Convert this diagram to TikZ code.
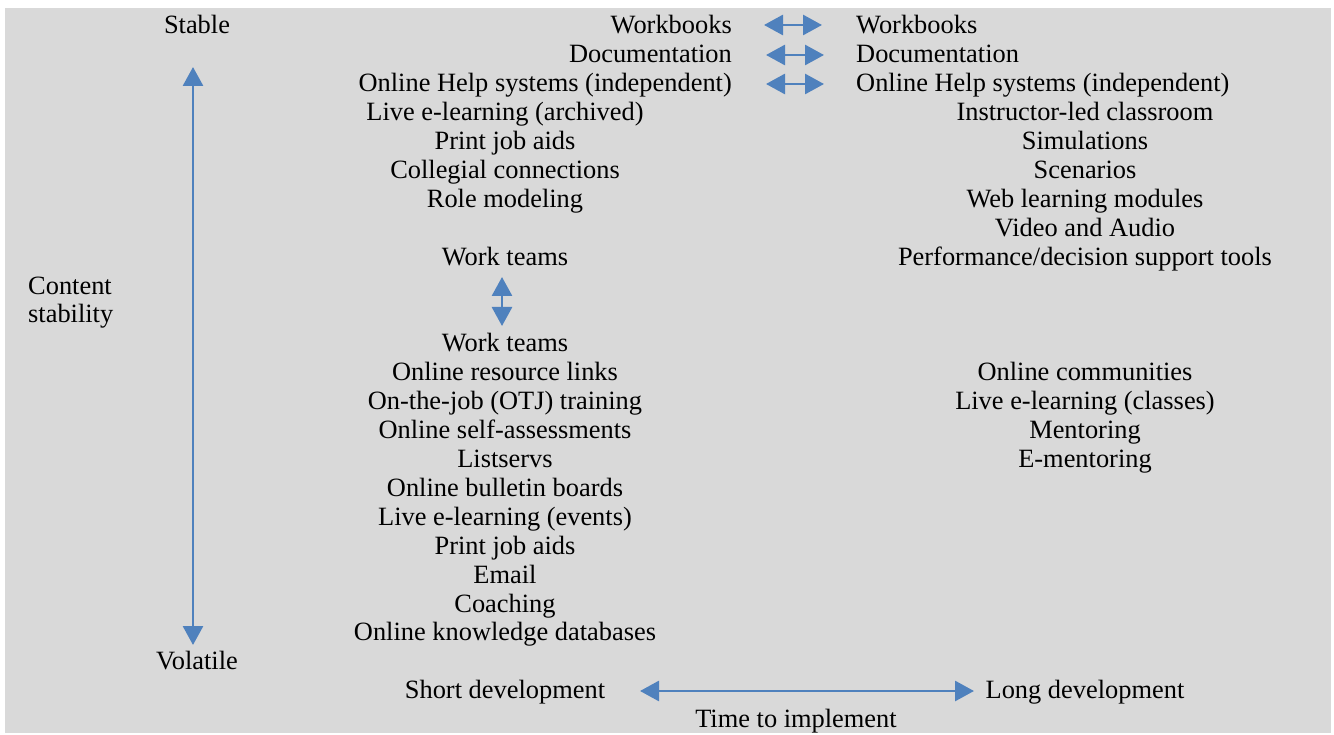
\documentclass[tikz,border=0pt]{standalone}
\usepackage{fontspec}
\setmainfont{Liberation Serif}
\usetikzlibrary{arrows.meta}
\definecolor{panel}{RGB}{217,217,217}
\definecolor{arrowblue}{RGB}{79,129,189}
\newcommand{\rowy}[1]{34+28.9*#1}
\newcommand{\leftitem}[3]{\node[item] (#1) at (505,{\rowy{#2}}) {#3};}
\newcommand{\rightitem}[3]{\node[item] (#1) at (1085,{\rowy{#2}}) {#3};}
\newcommand{\drawarrow}{\draw[arrowblue,line width=2.8pt,{Triangle[width=20pt,length=19pt]}-{Triangle[width=20pt,length=19pt]}]}
\begin{document}
\begin{tikzpicture}[x=1pt,y=-1pt,item/.style={inner sep=0pt,anchor=base,font=\fontsize{26.4}{28.9}\selectfont}]
\useasboundingbox (0,0) rectangle (1334,735);
\fill[panel] (5,8) rectangle (1331,733);
\node[item] (stable) at (197,{\rowy{0}}) {Stable};
\node[item] (volatile) at (197,{\rowy{22}}) {Volatile};
\node[item,anchor=base west,align=left] (stability) at (28,{\rowy{10}}) {Content\\stability};
\node[item,anchor=base east] (wbL) at (732,{\rowy{0}}) {Workbooks};
\node[item,anchor=base east] (docL) at (732,{\rowy{1}}) {Documentation};
\node[item,anchor=base east] (helpL) at (732,{\rowy{2}}) {Online Help systems (independent)};
\node[item,anchor=base west] (wbR) at (856,{\rowy{0}}) {Workbooks};
\node[item,anchor=base west] (docR) at (856,{\rowy{1}}) {Documentation};
\node[item,anchor=base west] (helpR) at (856,{\rowy{2}}) {Online Help systems (independent)};
\leftitem{archivedL}{3}{Live e-learning (archived)}
\leftitem{printL}{4}{Print job aids}
\leftitem{collegialL}{5}{Collegial connections}
\leftitem{roleL}{6}{Role modeling}
\leftitem{teamsA}{8}{Work teams}
\leftitem{teamsB}{11}{Work teams}
\leftitem{resourceL}{12}{Online resource links}
\leftitem{otjL}{13}{On-the-job (OTJ) training}
\leftitem{selfL}{14}{Online self-assessments}
\leftitem{listservL}{15}{Listservs}
\leftitem{bulletinL}{16}{Online bulletin boards}
\leftitem{eventsL}{17}{Live e-learning (events)}
\leftitem{printB}{18}{Print job aids}
\leftitem{emailL}{19}{Email}
\leftitem{coachL}{20}{Coaching}
\leftitem{knowledgeL}{21}{Online knowledge databases}
\leftitem{shortdev}{23}{Short development}
\rightitem{classroomR}{3}{Instructor-led classroom}
\rightitem{simR}{4}{Simulations}
\rightitem{scenR}{5}{Scenarios}
\rightitem{webR}{6}{Web learning modules}
\rightitem{videoR}{7}{Video and Audio}
\rightitem{perfR}{8}{Performance/decision support tools}
\rightitem{commR}{12}{Online communities}
\rightitem{classesR}{13}{Live e-learning (classes)}
\rightitem{mentorR}{14}{Mentoring}
\rightitem{ementorR}{15}{E-mentoring}
\rightitem{longdev}{23}{Long development}
\node[item] (timeimpl) at (796,{\rowy{24}}) {Time to implement};
\coordinate (stabtop) at (193,67);
\coordinate (stabbot) at (193,645);
\coordinate (wbA) at (764,25);
\coordinate (wbB) at (822,25);
\coordinate (docA) at (766,55);
\coordinate (docB) at (824,55);
\coordinate (helpA) at (766,84);
\coordinate (helpB) at (824,84);
\coordinate (teamsTop) at (502,277);
\coordinate (teamsBot) at (502,326);
\coordinate (devA) at (640,691);
\coordinate (devB) at (974,691);
\drawarrow (stabtop) -- (stabbot);
\drawarrow (wbA) -- (wbB);
\drawarrow (docA) -- (docB);
\drawarrow (helpA) -- (helpB);
\drawarrow (teamsTop) -- (teamsBot);
\drawarrow (devA) -- (devB);
\end{tikzpicture}
\end{document}
